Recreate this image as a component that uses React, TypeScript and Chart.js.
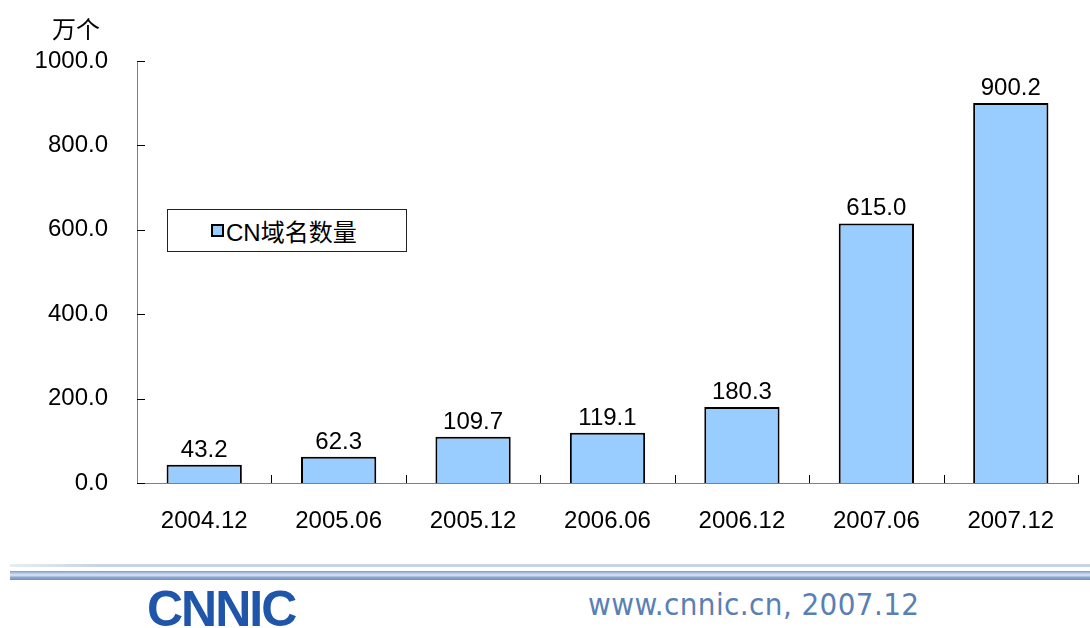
import React, { useEffect, useRef } from "react";
import { Chart, registerables } from "chart.js";

Chart.register(...registerables);

const categories = ["2004.12", "2005.06", "2005.12", "2006.06", "2006.12", "2007.06", "2007.12"];
const cnDomains = [43.2, 62.3, 109.7, 119.1, 180.3, 615.0, 900.2];
const seriesName = "CN域名数量";
const unitLabel = "万个";
const yMax = 1000;
const yStep = 200;
const footerText = "www.cnnic.cn, 2007.12";
const logoText = "CNNIC";

const FONT = "'Liberation Sans', Arial, sans-serif";

const inwardTicks = {
  id: "inwardTicks",
  afterDraw(chart: any) {
    const ctx = chart.ctx;
    const y = chart.scales.y;
    const area = chart.chartArea;
    ctx.save();
    ctx.strokeStyle = "#000";
    ctx.lineWidth = 1;
    ctx.beginPath();
    for (let v = 0; v <= yMax; v += yStep) {
      const py = Math.round(y.getPixelForValue(v)) + 0.5;
      ctx.moveTo(area.left, py);
      ctx.lineTo(area.left + 8, py);
    }
    const n = categories.length;
    for (let i = 1; i <= n; i++) {
      const px = Math.round(area.left + ((area.right - area.left) * i) / n) + 0.5;
      ctx.moveTo(px, area.bottom);
      ctx.lineTo(px, area.bottom - 8);
    }
    ctx.stroke();
    ctx.restore();
  },
};

const valueLabels = {
  id: "valueLabels",
  afterDatasetsDraw(chart: any) {
    const ctx = chart.ctx;
    const meta = chart.getDatasetMeta(0);
    ctx.save();
    ctx.font = `24px ${FONT}`;
    ctx.fillStyle = "#000";
    ctx.textAlign = "center";
    ctx.textBaseline = "alphabetic";
    meta.data.forEach((bar: any, i: number) => {
      ctx.fillText(cnDomains[i].toFixed(1), bar.x, bar.y - 8);
    });
    ctx.restore();
  },
};

export default function App() {
  const canvasRef = useRef<HTMLCanvasElement | null>(null);

  useEffect(() => {
    document.body.style.margin = "0";
    const chart = new Chart(canvasRef.current as HTMLCanvasElement, {
      type: "bar",
      data: {
        labels: categories,
        datasets: [
          {
            label: seriesName,
            data: cnDomains,
            backgroundColor: "#99CCFF",
            borderColor: "#000",
            borderWidth: 2,
            categoryPercentage: 1,
            barPercentage: 0.56,
          },
        ],
      },
      options: {
        animation: false,
        responsive: false,
        maintainAspectRatio: false,
        layout: { padding: { top: 61, right: 12, left: 0, bottom: 0 } },
        plugins: {
          legend: { display: false },
          tooltip: { enabled: false },
        },
        scales: {
          x: {
            grid: { display: false, drawTicks: false },
            border: { display: true, color: "#808080", width: 1 },
            ticks: { color: "#000", font: { family: FONT, size: 24 }, padding: 24 },
            afterFit: (s: any) => {
              s.height = 77;
            },
          },
          y: {
            min: 0,
            max: yMax,
            grid: { display: false, drawTicks: false },
            border: { display: true, color: "#808080", width: 1 },
            ticks: {
              stepSize: yStep,
              color: "#000",
              font: { family: FONT, size: 24 },
              padding: 29,
              callback: (v: any) => Number(v).toFixed(1),
            },
            afterFit: (s: any) => {
              s.width = 137;
            },
          },
        },
      },
      plugins: [inwardTicks, valueLabels],
    });
    return () => chart.destroy();
  }, []);

  return (
    <div style={{ position: "fixed", left: 0, top: 0, width: 1090, height: 628, background: "#fff", overflow: "hidden" }}>
      <canvas ref={canvasRef} width={1090} height={560} style={{ position: "absolute", left: 0, top: 0, width: 1090, height: 560 }} />
      <div
        style={{
          position: "absolute",
          left: 52,
          top: 14,
          fontFamily: "'Noto Sans CJK SC', sans-serif",
          fontSize: 24,
          lineHeight: "28px",
          color: "#000",
        }}
      >
        {unitLabel}
      </div>
      <div
        style={{
          position: "absolute",
          left: 167,
          top: 209,
          width: 240,
          height: 43,
          border: "1px solid #222",
          background: "#fff",
          display: "flex",
          alignItems: "center",
          boxSizing: "border-box",
        }}
      >
        <span
          style={{
            display: "inline-block",
            width: 13,
            height: 13,
            boxSizing: "border-box",
            marginLeft: 43,
            marginRight: 2,
            background: "#99CCFF",
            border: "2px solid #000",
          }}
        />
        <span style={{ fontFamily: `${FONT}, 'Noto Sans CJK SC'`, fontSize: 24, color: "#000" }}>{seriesName}</span>
      </div>
      <div
        style={{
          position: "absolute",
          left: 10,
          right: 0,
          top: 564,
          height: 3,
          background: "linear-gradient(to right, rgba(180,195,215,0.3), #c8d4e4 8%, #c8d4e4)",
        }}
      />
      <div
        style={{
          position: "absolute",
          left: 10,
          right: 0,
          top: 571,
          height: 9,
          background: "linear-gradient(to bottom, #7d9cc8, #dfe8f4 45%, #8eaad2 70%, #6f8fbf)",
        }}
      />
      <div
        style={{
          position: "absolute",
          left: 147,
          top: 584,
          fontFamily: "'Liberation Sans', Arial, sans-serif",
          fontWeight: 900,
          fontSize: 50,
          lineHeight: "50px",
          letterSpacing: -2,
          color: "#1f56aa",
          whiteSpace: "nowrap",
        }}
      >
        {logoText}
      </div>
      <div
        style={{
          position: "absolute",
          left: 588,
          top: 586,
          fontFamily: "'DejaVu Sans Condensed', 'Liberation Sans Narrow', sans-serif",
          fontSize: 31,
          lineHeight: "36px",
          letterSpacing: 0.4,
          color: "#5a7fb5",
          whiteSpace: "nowrap",
        }}
      >
        {footerText}
      </div>
    </div>
  );
}
